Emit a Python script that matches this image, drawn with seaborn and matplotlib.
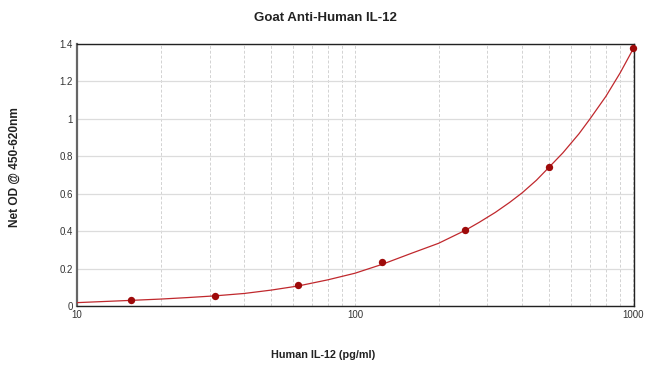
import matplotlib
matplotlib.use('Agg')
import matplotlib.pyplot as plt
import matplotlib.ticker as mticker
import seaborn as sns
import pandas as pd

# standard points (pg/ml) and net OD
conc = [15.6, 31.25, 62.5, 125, 250, 500, 1000]
od = [0.032, 0.055, 0.114, 0.235, 0.405, 0.745, 1.381]

# fitted curve
curve_x = [10, 12.5, 15.6, 20, 25, 31.25, 40, 50, 62.5, 80, 100, 125, 160, 200,
           250, 280, 320, 360, 400, 450, 500, 560, 640, 700, 800, 900, 1000, 1010]
curve_y = [0.018, 0.024, 0.030, 0.037, 0.045, 0.054, 0.067, 0.085, 0.107, 0.140,
           0.175, 0.222, 0.282, 0.335, 0.405, 0.447, 0.50, 0.553, 0.605, 0.672,
           0.742, 0.818, 0.92, 0.998, 1.12, 1.245, 1.37, 1.385]

y_ticks = [0, 0.2, 0.4, 0.6, 0.8, 1, 1.2, 1.4]
x_ticks = [10, 100, 1000]

sns.set_style('white')
plt.rcParams['font.family'] = ['Liberation Sans', 'DejaVu Sans']

fig = plt.figure(figsize=(6.5, 3.77), dpi=100)
ax = fig.add_axes([77 / 650, 1 - 306 / 377, (634 - 77) / 650, (306 - 44) / 377])

df_curve = pd.DataFrame({'x': curve_x, 'y': curve_y})
df_pts = pd.DataFrame({'x': conc, 'y': od})

sns.lineplot(data=df_curve, x='x', y='y', ax=ax, color='#c0282d', linewidth=0.9,
             zorder=3)
sns.scatterplot(data=df_pts, x='x', y='y', ax=ax, color='#9e0a0a', s=28,
                edgecolor='#9e0a0a', linewidth=0, zorder=4, clip_on=False)

ax.set_xscale('log')
ax.set_xlim(10, 1010)
ax.set_ylim(0, 1.4)

ax.set_yticks(y_ticks)
ax.set_yticklabels([('%g' % v) for v in y_ticks])
ax.set_xticks(x_ticks)
ax.set_xticklabels([str(v) for v in x_ticks])
ax.xaxis.set_minor_locator(mticker.LogLocator(base=10, subs=range(2, 10)))
ax.xaxis.set_minor_formatter(mticker.NullFormatter())

ax.grid(axis='y', which='major', color='#dcdcdc', linewidth=0.9, linestyle='-')
ax.grid(axis='x', which='both', color='#d2d2d2', linewidth=0.7, linestyle=(0, (3, 2)))
ax.set_axisbelow(True)

ax.tick_params(axis='both', which='both', length=0, labelsize=7, colors='#333333')
ax.tick_params(axis='y', pad=3)
ax.tick_params(axis='x', pad=3)

for s in ['top', 'right', 'bottom']:
    ax.spines[s].set_color('#222222')
    ax.spines[s].set_linewidth(1.0)
ax.spines['left'].set_color('#666666')
ax.spines['left'].set_linewidth(1.6)

ax.set_xlabel('')
ax.set_ylabel('')
fig.text(0.5, 1 - 18 / 377, 'Goat Anti-Human IL-12', ha='center', va='center',
         fontsize=9.5, fontweight='bold', color='#222222')
fig.text(323 / 650, 1 - 355 / 377, 'Human IL-12 (pg/ml)', ha='center', va='center',
         fontsize=7.8, fontweight='bold', color='#222222')
fig.text(15 / 650, 1 - 167 / 377, 'Net OD @ 450-620nm', ha='center', va='center',
         rotation=90, fontsize=8.6, fontweight='bold', color='#222222')

fig.savefig('out.png', dpi=100)
